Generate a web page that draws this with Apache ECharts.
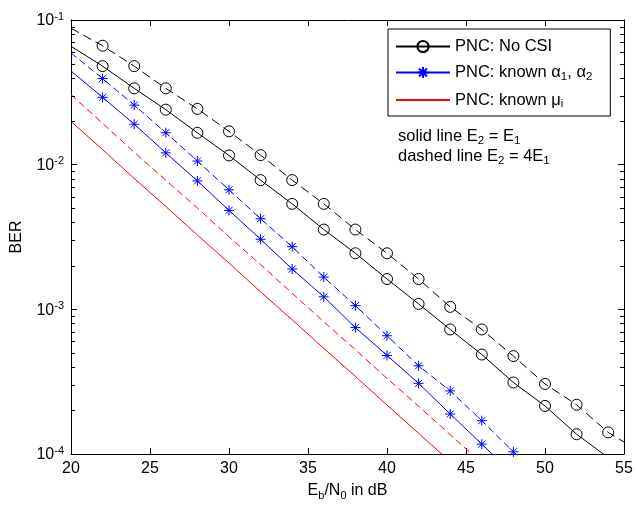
<!DOCTYPE html>
<html>
<head>
<meta charset="utf-8">
<script src="https://cdn.jsdelivr.net/npm/echarts@6/dist/echarts.min.js"></script>
<style>html,body{margin:0;padding:0;background:#fff}#c{width:637px;height:506px}</style>
</head>
<body>
<div id="c"></div>
<script>
// ---- data ----
const noCsiDashedX = [20,22,24,26,28,30,32,34,36,38,40,42,44,46,48,50,52,54,55];
const noCsiDashedBer = [0.0877,0.0664,0.0480,0.0337,0.0243,0.0170,0.01164,0.00782,0.00536,0.00356,0.00244,0.00162,0.00104,0.000726,0.000475,0.000305,0.000219,0.000141,0.000121];
const noCsiSolidX = [20,22,24,26,28,30,32,34,36,38,40,42,44,46,48,50,52,54];
const noCsiSolidBer = [0.0658,0.0480,0.0337,0.0240,0.0166,0.01158,0.00782,0.00536,0.00356,0.00244,0.00162,0.00109,0.000726,0.000487,0.000312,0.000215,0.000137,0.0000944];
const alphaDashedX = [20,22,24,26,28,30,32,34,36,38,40,42,44,46,48,50];
const alphaDashedBer = [0.0592,0.0394,0.0258,0.01663,0.01059,0.00670,0.00423,0.00271,0.00167,0.00106,0.000657,0.000407,0.000273,0.000170,0.0001035,0.0000640];
const alphaSolidX = [20,22,24,26,28,30,32,34,36,38,40,42,44,46,48];
const alphaSolidBer = [0.0444,0.0292,0.01905,0.01207,0.00772,0.00483,0.00305,0.00190,0.00122,0.000748,0.000480,0.000308,0.000189,0.000117,0.0000724];
const muDashedX = [20,22,24,26,28,30,32,34,36,38,40,42,44,46];
const muDashedBer = [0.0305,0.0193,0.0122,0.0078,0.00502,0.00317,0.00204,0.00129,0.00082,0.000526,0.000333,0.000214,0.000136,0.0000865];
const muSolidX = [20,22,24,26,28,30,32,34,36,38,40,42,44];
const muSolidBer = [0.0199,0.0127,0.00803,0.00514,0.00326,0.00209,0.00132,0.000846,0.000537,0.000344,0.000218,0.000139,0.0000885];

const xTicks = [20,25,30,35,40,45,50,55];
const yDecades = [-4,-3,-2,-1];
const minorMantissas = [2,3,4,5,6,7,8,9];

const FONT = "'Liberation Sans', Arial, sans-serif";
const FS = 16, FSS = 11, FSL = 16.5;
const NAME_NOCSI = 'PNC: No CSI';
const NAME_ALPHA = 'PNC: known α1, α2';
const NAME_MU = 'PNC: known μi';

const chart = echarts.init(document.getElementById('c'), null, {renderer:'canvas'});

function pts(xs, ys, marker) {
  return xs.map((x, i) => {
    const show = marker && x >= 22 && x % 2 === 0 && ys[i] >= 1e-4;
    return show ? {value:[x, ys[i]]} : {value:[x, ys[i]], symbol:'none'};
  });
}
const STAR = 'path://M0,-5L0,5M-5,0L5,0M-3.54,-3.54L3.54,3.54M-3.54,3.54L3.54,-3.54';

function lineSeries(name, xs, ys, color, dashed, symbol, size, dash) {
  const hasSym = !!symbol;
  return {
    name, type:'line', data: pts(xs, ys, hasSym),
    symbol: symbol || 'circle', symbolSize: size || 0, showSymbol: hasSym,
    lineStyle: {color, width: 1, type: dashed ? dash : 'solid'},
    itemStyle: hasSym
      ? {color: symbol === STAR ? color : 'rgba(0,0,0,0)', borderColor: color, borderWidth: 1}
      : {color: 'rgba(0,0,0,0)', borderColor: 'rgba(0,0,0,0)', borderWidth: 0},
    emphasis: {disabled: true}, silent: true, z: 3
  };
}

const minorVals = [];
yDecades.slice(0, 3).forEach(d => minorMantissas.forEach(m => minorVals.push([m * Math.pow(10, d)])));

const baseAxisCommon = {
  axisLine: {show: true, lineStyle: {color: '#000', width: 1}},
  axisTick: {show: true, inside: true, length: 6, lineStyle: {color: '#000', width: 1}},
  splitLine: {show: false}
};
const richT = {fontSize: FS, fontFamily: FONT, color: '#000', lineHeight: 20};
const richSub = {fontSize: FSS, fontFamily: FONT, color: '#000', lineHeight: 12, verticalAlign: 'bottom'};
const richTL = {fontSize: FSL, fontFamily: FONT, color: '#000', lineHeight: 20};
const richSubL = {fontSize: 11.5, fontFamily: FONT, color: '#000', lineHeight: 12, verticalAlign: 'bottom'};

const option = {
  animation: false,
  backgroundColor: '#fff',
  grid: {left: 71, right: 13, top: 20, bottom: 47},
  xAxis: [
    Object.assign({type:'value', min:20, max:55, interval:5, position:'bottom',
      name: '{t|E}{sub|b}{t|/N}{sub|0}{t| in dB}', nameLocation:'middle', nameGap: 27,
      nameTextStyle: {rich: {t: richT, sub: richSub}},
      axisLabel: {fontSize: FS, fontFamily: FONT, color: '#000', margin: 7,
        formatter: v => xTicks.includes(v) ? String(v) : ''}}, baseAxisCommon),
    Object.assign({type:'value', min:20, max:55, interval:5, position:'top', axisLabel:{show:false}}, baseAxisCommon)
  ],
  yAxis: [
    Object.assign({type:'log', logBase:10, min:1e-4, max:1e-1, position:'left',
      name:'BER', nameLocation:'middle', nameGap: 46, nameRotate: 90,
      nameTextStyle: {fontSize: FS, fontFamily: FONT, color: '#000'},
      axisLabel: {margin: 7, color:'#000',
        formatter: v => { const e = Math.round(Math.log10(v)); return yDecades.includes(e) ? '{b|10}{s|' + e + '}' : ''; },
        rich: {
          b: {fontSize: FS, fontFamily: FONT, color:'#000', lineHeight: 18, verticalAlign:'bottom'},
          s: {fontSize: FSS, fontFamily: FONT, color:'#000', lineHeight: 11, verticalAlign:'top'}
        }}}, baseAxisCommon),
    Object.assign({type:'log', logBase:10, min:1e-4, max:1e-1, position:'right', axisLabel:{show:false}}, baseAxisCommon)
  ],
  legend: {
    orient: 'vertical', left: 388, top: 29,
    data: [NAME_NOCSI, NAME_ALPHA, NAME_MU],
    backgroundColor: '#fff', borderColor: '#000', borderWidth: 1, borderRadius: 0,
    padding: [9, 18, 6, 7], itemGap: 9, itemWidth: 54, itemHeight: 14,
    selectedMode: false,
    formatter: n => n === NAME_NOCSI ? '{t|PNC: No CSI}'
      : n === NAME_ALPHA ? '{t|PNC: known α}{sub|1}{t|, α}{sub|2}'
      : '{t|PNC: known μ}{sub|i}',
    textStyle: {color:'#000', rich: {t: richTL, sub: richSubL}}
  },
  graphic: [
    {type:'text', left: 398, top: 128, z: 10, style: {
      text: '{t|solid line E}{sub|2}{t| = E}{sub|1}',
      rich: {t:{fontSize:FSL, fontFamily:FONT, fill:'#000', lineHeight:20},
             sub:{fontSize:11.5, fontFamily:FONT, fill:'#000', lineHeight:12, verticalAlign:'bottom'}}}},
    {type:'text', left: 398, top: 148, z: 10, style: {
      text: '{t|dashed line E}{sub|2}{t| = 4E}{sub|1}',
      rich: {t:{fontSize:FSL, fontFamily:FONT, fill:'#000', lineHeight:20},
             sub:{fontSize:11.5, fontFamily:FONT, fill:'#000', lineHeight:12, verticalAlign:'bottom'}}}}
  ],
  series: [
    lineSeries('No CSI E2=4E1', noCsiDashedX, noCsiDashedBer, '#000', true, 'circle', 11, [9, 5]),
    lineSeries(NAME_NOCSI, noCsiSolidX, noCsiSolidBer, '#000', false, 'circle', 11),
    lineSeries('alpha E2=4E1', alphaDashedX, alphaDashedBer, '#0000ff', true, STAR, 10, [7, 4]),
    lineSeries(NAME_ALPHA, alphaSolidX, alphaSolidBer, '#0000ff', false, STAR, 10),
    lineSeries('mu E2=4E1', muDashedX, muDashedBer, '#ff0000', true, null, 0, [7, 4]),
    lineSeries(NAME_MU, muSolidX, muSolidBer, '#ff0000', false, null, 0),
    {
      type: 'custom', name: 'minorTicks', silent: true, z: 4,
      data: minorVals,
      renderItem: (params, api) => {
        const v = api.value(0);
        const l = api.coord([20, v]);
        const r = api.coord([55, v]);
        const st = {stroke:'#000', lineWidth:1};
        return {type:'group', children: [
          {type:'line', shape:{x1:l[0], y1:Math.round(l[1])+0.5, x2:l[0]+4, y2:Math.round(l[1])+0.5}, style: st},
          {type:'line', shape:{x1:r[0], y1:Math.round(r[1])+0.5, x2:r[0]-4, y2:Math.round(r[1])+0.5}, style: st}
        ]};
      },
      encode: {y: 0}
    }
  ]
};
chart.setOption(option);
</script>
</body>
</html>
